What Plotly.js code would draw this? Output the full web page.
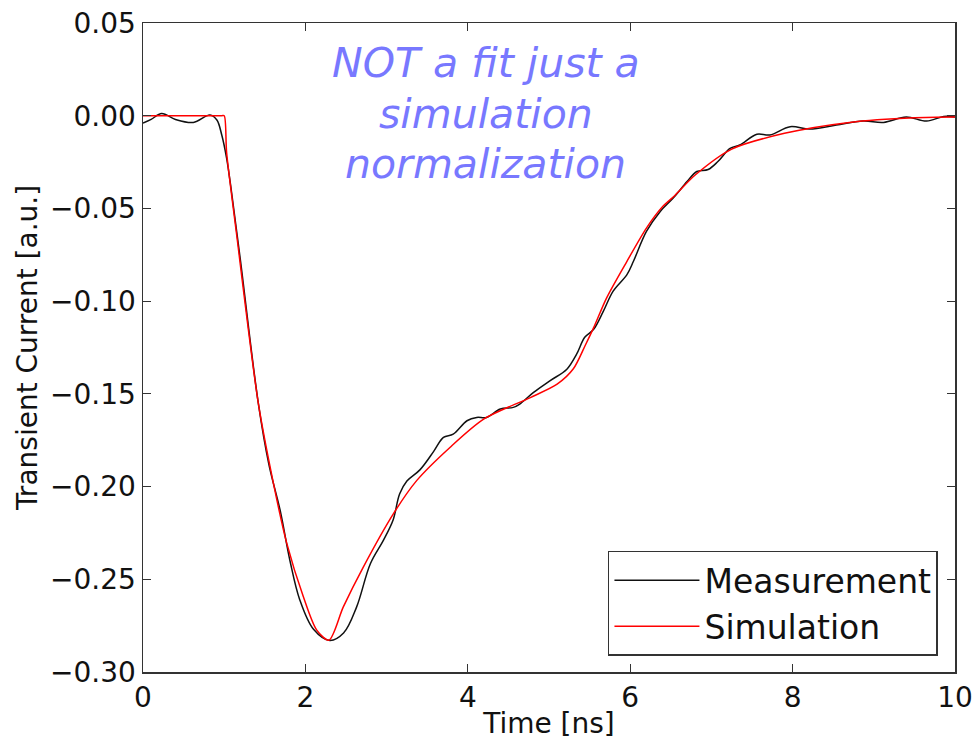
<!DOCTYPE html>
<html>
<head>
<meta charset="utf-8">
<script src="https://cdn.plot.ly/plotly-3.0.1.min.js"></script>
<style>html,body{margin:0;padding:0;background:#fff;}#chart{width:973px;height:744px;}</style>
</head>
<body>
<div id="chart"></div>
<script>
// Measurement (black)
const measT = [0, 0.1, 0.23, 0.4, 0.62, 0.825, 0.91, 0.97, 1.03, 1.09, 1.2, 1.42, 1.55, 1.69, 1.81, 1.93, 2.1, 2.3, 2.47, 2.63, 2.8, 2.96, 3.08, 3.16, 3.25, 3.41, 3.58, 3.70, 3.82, 3.99, 4.11, 4.23, 4.40, 4.56, 4.64, 4.81, 5.01, 5.22, 5.34, 5.44, 5.55, 5.67, 5.79, 5.96, 6.04, 6.20, 6.37, 6.53, 6.70, 6.82, 6.96, 7.08, 7.23, 7.35, 7.56, 7.72, 7.97, 8.21, 8.54, 8.87, 9.12, 9.40, 9.65, 9.86, 10];
const measI = [-0.004, -0.002, 0.0012, -0.002, -0.0036, 0.0004, -0.0023, -0.0104, -0.023, -0.041, -0.078, -0.155, -0.188, -0.213, -0.240, -0.261, -0.277, -0.283, -0.279, -0.265, -0.2416, -0.229, -0.218, -0.204, -0.197, -0.191, -0.181, -0.1735, -0.1717, -0.1645, -0.1627, -0.1627, -0.1582, -0.1573, -0.1555, -0.1492, -0.143, -0.1367, -0.1286, -0.1195, -0.1152, -0.1054, -0.0946, -0.0857, -0.0785, -0.0624, -0.0516, -0.0444, -0.0355, -0.0301, -0.029, -0.0247, -0.0176, -0.0158, -0.010, -0.0104, -0.0059, -0.0072, -0.005, -0.0029, -0.0036, -0.0007, -0.0029, -0.0004, -0.0007];
// Simulation (red)
const simT = [0, 0.97, 1.0, 1.03, 1.15, 1.42, 1.605, 1.77, 1.975, 2.14, 2.29, 2.467, 2.713, 3.083, 3.37, 3.78, 4.2, 4.77, 5.1, 5.3, 5.45, 5.55, 5.71, 5.96, 6.2, 6.4, 6.55, 6.8, 7.25, 7.9, 8.7, 9.5, 10];
const simI = [0, 0, 0, -0.02, -0.063, -0.155, -0.198, -0.2305, -0.2594, -0.2774, -0.2828, -0.2649, -0.2434, -0.2147, -0.1968, -0.1789, -0.1635, -0.152, -0.1448, -0.1365, -0.1235, -0.1143, -0.0982, -0.0785, -0.0606, -0.049, -0.043, -0.032, -0.018, -0.0095, -0.0036, -0.0011, -0.0007];

const xTicks = [0, 2, 4, 6, 8, 10];
const names = ['Measurement', 'Simulation'];
const noteLines = ['NOT a fit just a', 'simulation', 'normalization'];
const noteY = [0.9385, 0.8598, 0.7828];

const traces = [
  {x: measT, y: measI, name: names[0], type: 'scatter', mode: 'lines',
   line: {color: '#111111', width: 1.5, shape: 'spline', smoothing: 1}},
  {x: simT, y: simI, name: names[1], type: 'scatter', mode: 'lines',
   line: {color: '#ff0000', width: 1.5, shape: 'spline', smoothing: 0.8}}
];

const axisCommon = {
  showline: true, linecolor: '#333', linewidth: 1.5, mirror: 'ticks',
  ticks: 'inside', ticklen: 8, tickwidth: 1, tickcolor: '#333',
  showgrid: false, zeroline: false,
  tickfont: {family: 'DejaVu Sans', size: 28, color: '#111'}
};

const layout = {
  width: 973, height: 744,
  margin: {l: 143, r: 18, t: 23, b: 72},
  paper_bgcolor: '#fff', plot_bgcolor: '#fff',
  showlegend: true,
  xaxis: Object.assign({}, axisCommon, {
    range: [0, 10], tickvals: xTicks, ticktext: xTicks.map(String),
    title: {text: 'Time [ns]', font: {family: 'DejaVu Sans', size: 28, color: '#111'}, standoff: 0}
  }),
  yaxis: Object.assign({}, axisCommon, {
    range: [-0.30, 0.05], tick0: 0, dtick: 0.05, tickformat: '.2f',
    title: {text: 'Transient Current [a.u.]', font: {family: 'DejaVu Sans', size: 28, color: '#111'}, standoff: 4}
  }),
  legend: {
    x: 0.979, y: 0.025, xanchor: 'right', yanchor: 'bottom',
    bgcolor: '#fff', bordercolor: '#333', borderwidth: 1.5,
    font: {family: 'DejaVu Sans', size: 33, color: '#111'},
    itemwidth: 85
  },
  annotations: noteLines.map((t, i) => ({
    text: t, xref: 'paper', yref: 'paper', x: 0.4224, y: noteY[i],
    xanchor: 'center', yanchor: 'middle', showarrow: false, align: 'center',
    font: {family: 'DejaVu Sans', size: 41, color: '#7878ff', style: 'italic'}
  }))
};

Plotly.newPlot('chart', traces, layout, {displayModeBar: false, staticPlot: true});
</script>
</body>
</html>
